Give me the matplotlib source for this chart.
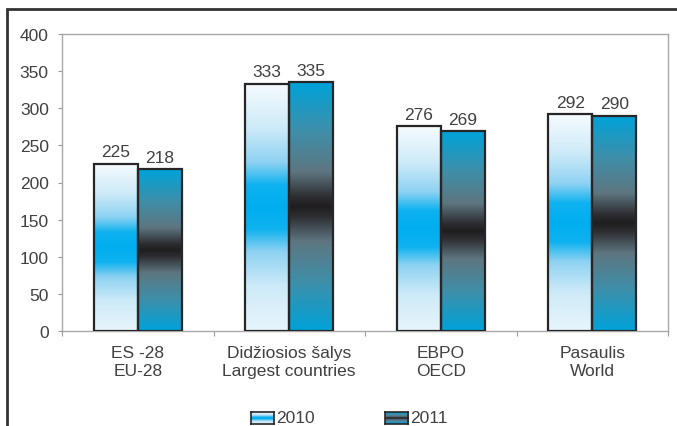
import numpy as np
import matplotlib
matplotlib.use("Agg")
import matplotlib.pyplot as plt
from matplotlib.colors import to_rgb
from matplotlib.patches import Rectangle

plt.rcParams['font.family'] = ['Liberation Sans', 'DejaVu Sans']

categories = ["ES -28\nEU-28", "Didžiosios šalys\nLargest countries", "EBPO\nOECD", "Pasaulis\nWorld"]
series_names = ["2010", "2011"]
values_2010 = [225, 333, 276, 292]
values_2011 = [218, 335, 269, 290]
yticks = [0, 50, 100, 150, 200, 250, 300, 350, 400]

TEXT = "#404040"
FS = 12.5
stops_2010 = [(0.0, "#E8F5FC"), (0.18, "#CDEAF8"), (0.32, "#8ED2F2"), (0.41, "#0FB2EF"),
              (0.5, "#00AEEF"), (0.59, "#0FB2EF"), (0.68, "#8ED2F2"), (0.82, "#CDEAF8"), (1.0, "#F6FBFE")]
stops_2011 = [(0.0, "#00A3DA"), (0.2, "#3F8EA8"), (0.36, "#5E7680"), (0.46, "#2E2E32"),
              (0.5, "#1F1D1E"), (0.54, "#2E2E32"), (0.64, "#5E7680"), (0.8, "#3F8EA8"), (1.0, "#00A3DA")]

def make_img(stops, n=256):
    pos = np.array([s[0] for s in stops])
    cols = np.array([to_rgb(s[1]) for s in stops])
    t = np.linspace(0, 1, n)
    img = np.stack([np.interp(t, pos, cols[:, k]) for k in range(3)], axis=-1)
    return img[:, None, :]

img_2010 = make_img(stops_2010)
img_2011 = make_img(stops_2011)

fig = plt.figure(figsize=(6.77, 4.27), dpi=100)
W, H = 677, 427
ax = fig.add_axes([62 / W, 1 - 332 / H, (668 - 62) / W, (332 - 35) / H])

x = np.arange(len(categories))
bw = 0.29
for i, (v1, v2) in enumerate(zip(values_2010, values_2011)):
    for off, v, img in ((-bw / 2, v1, img_2010), (bw / 2, v2, img_2011)):
        x0 = i + off - bw / 2
        ax.imshow(img, extent=[x0, x0 + bw, 0, v], origin="lower", aspect="auto",
                  interpolation="bilinear", zorder=2)
        ax.bar(i + off, v, width=bw, facecolor="none", edgecolor="#262626", linewidth=1.6, zorder=3)
        ax.text(i + off, v + 6, str(v), ha="center", va="bottom", fontsize=FS, color=TEXT)

ax.set_xlim(-0.5, len(categories) - 0.5)
ax.set_ylim(0, 400)
ax.set_yticks(yticks)
ax.set_yticklabels([str(t) for t in yticks], fontsize=FS, color=TEXT)
ax.set_xticks(np.arange(len(categories) + 1) - 0.5)
ax.set_xticklabels([])
ax.set_xticks(x, minor=True)
ax.set_xticklabels(categories, minor=True, fontsize=FS, color=TEXT, linespacing=1.3)
ax.tick_params(axis="x", which="minor", length=0, pad=10)
ax.tick_params(axis="x", which="major", length=3.5, color="#9a9a9a", direction="out")
ax.tick_params(axis="y", length=3, color="#9a9a9a", direction="out", pad=6.5)
for s in ax.spines.values():
    s.set_color("#a8a8a8")
    s.set_linewidth(1.0)

def leg(xpix, img, label):
    lax = fig.add_axes([xpix / W, 1 - 425 / H, 23 / W, 12 / H])
    lax.imshow(img, origin="lower", aspect="auto", interpolation="bilinear",
               extent=[0, 1, 0, 1])
    lax.set_xticks([]); lax.set_yticks([])
    for s in lax.spines.values():
        s.set_color("#262626"); s.set_linewidth(1.2)
    fig.text((xpix + 25) / W, 1 - 419 / H, label, ha="left", va="center", fontsize=FS, color=TEXT)

leg(251, img_2010, series_names[0])
leg(385, img_2011, series_names[1])

fig.patches.append(Rectangle((7 / W, -0.1), 1.2, 1 - 10 / H + 0.1, transform=fig.transFigure,
                             fill=False, edgecolor="#333333", linewidth=2.0))

fig.savefig("out.png", dpi=100)
